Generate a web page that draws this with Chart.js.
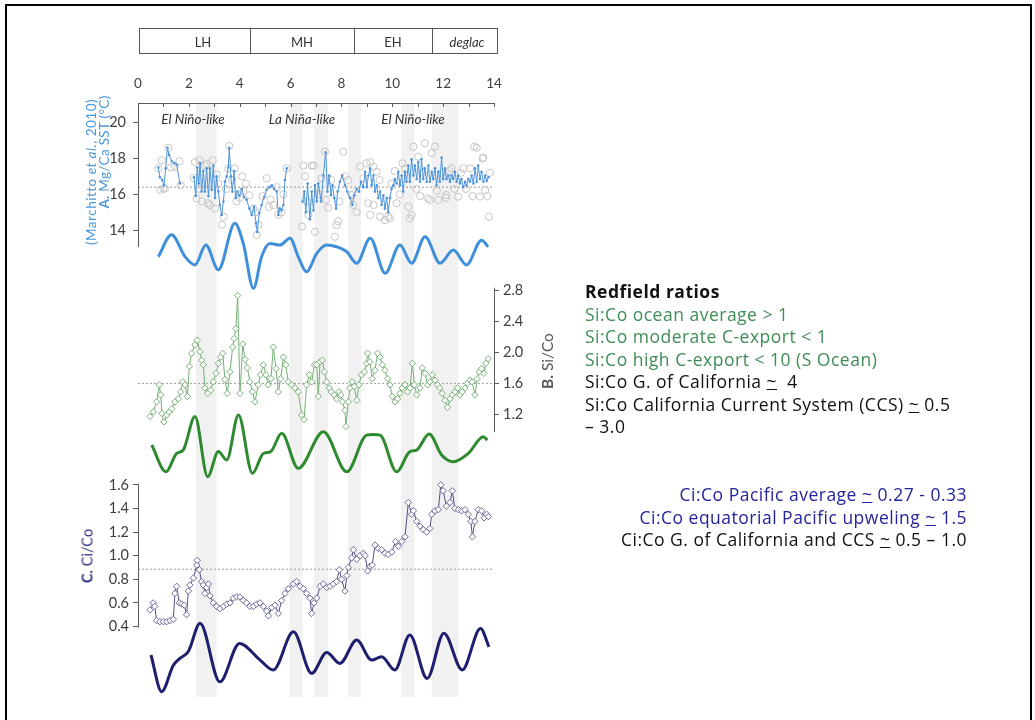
<!DOCTYPE html>
<html>
<head>
<meta charset="utf-8">
<script src="https://cdn.jsdelivr.net/npm/chart.js@4.4.0/dist/chart.umd.min.js"></script>
<style>
  body { margin: 0; background: #fff; font-family: Lato, "Noto Sans", sans-serif; }
  #page { position: relative; width: 1035px; height: 720px; overflow: hidden; }
  #frame { position: absolute; left: 5px; top: 4px; width: 1023px; height: 740px; border: 2px solid #000; }
  #chart { position: absolute; left: 0; top: 0; }
  .rot { position: absolute; transform: translate(-50%, -50%) rotate(-90deg); white-space: nowrap; }
  .lbl { position: absolute; transform: translate(-50%, -50%); white-space: nowrap; color: #333; }
  #periods { position: absolute; left: 139px; top: 28px; width: 357px; height: 24px; border: 1px solid #555; }
  .div { position: absolute; top: 0; height: 24px; border-left: 1px solid #555; }
  .notes { position: absolute; font-family: "Open Sans", sans-serif; font-size: 17.5px; letter-spacing: 0.5px; line-height: 22.5px; white-space: nowrap; color: #111; }
  .g { color: #3f8d56; }
  .b { color: #24249c; }
</style>
</head>
<body>
<div id="page">
  <canvas id="chart" width="1035" height="720"></canvas>

  <div id="periods">
    <div class="div" style="left:110px"></div>
    <div class="div" style="left:214px"></div>
    <div class="div" style="left:292px"></div>
  </div>
  <div class="lbl" style="left:203px;top:42px;font-size:13px">LH</div>
  <div class="lbl" style="left:302px;top:42px;font-size:13px">MH</div>
  <div class="lbl" style="left:393px;top:42px;font-size:13px">EH</div>
  <div class="lbl" style="left:467px;top:42px;font-size:13px;font-style:italic">deglac</div>

  <div class="lbl" style="left:193px;top:119px;font-size:13.5px;font-style:italic">El Niño-like</div>
  <div class="lbl" style="left:302px;top:119px;font-size:13.5px;font-style:italic">La Niña-like</div>
  <div class="lbl" style="left:413px;top:119px;font-size:13.5px;font-style:italic">El Niño-like</div>

  <div class="rot" style="left:91px;top:172px;font-size:13.5px;letter-spacing:0.5px;color:#4a98d8">(Marchitto <i>et al.</i>, 2010)</div>
  <div class="rot" style="left:104px;top:152px;font-size:13.5px;letter-spacing:0.3px;color:#4a98d8"><b>A.</b> Mg/Ca SST (°C)</div>
  <div class="rot" style="left:547px;top:361px;font-size:15.5px;color:#555"><b>B.</b> Si/Co</div>
  <div class="rot" style="left:87px;top:556px;font-size:14.5px;color:#2e2e80"><b>C.</b> Ci/Co</div>

  <div class="notes" style="left:585px;top:280px">
    <div><b>Redfield ratios</b></div>
    <div class="g">Si:Co ocean average &gt; 1</div>
    <div class="g">Si:Co moderate C-export &lt; 1</div>
    <div class="g">Si:Co high C-export &lt; 10 (S Ocean)</div>
    <div>Si:Co G. of California <u>~</u>&nbsp; 4</div>
    <div>Si:Co California Current System (CCS) <u>~</u> 0.5</div>
    <div>– 3.0</div>
  </div>
  <div class="notes" style="right:68px;top:483px;text-align:right">
    <div class="b">Ci:Co Pacific average <u>~</u> 0.27 - 0.33</div>
    <div class="b">Ci:Co equatorial Pacific upweling <u>~</u> 1.5</div>
    <div>Ci:Co G. of California and CCS <u>~</u> 0.5 – 1.0</div>
  </div>

  <div id="frame"></div>
</div>

<script>
// ---- age (ka) of the shaded intervals
const bandStart = [2.28, 5.95, 6.93, 8.27, 10.34, 11.55];
const bandEnd   = [3.09, 6.48, 7.48, 8.77, 10.87, 12.60];

// ---- A. Mg/Ca SST, raw samples (grey circles)
const sstRawX = [0.80,0.87,0.93,1.00,1.06,1.19,1.30,1.45,1.63,1.68,2.20,2.24,2.30,2.38,2.41,2.52,2.63,2.70,2.75,2.83,
  2.94,3.03,3.09,3.16,3.30,3.36,3.46,3.55,3.59,3.70,3.81,3.88,4.01,4.10,4.14,4.25,4.38,4.54,4.62,4.67,
  4.74,4.90,5.06,5.14,5.22,5.32,5.46,5.52,5.65,5.72,5.85,6.45,6.50,6.57,6.64,6.70,6.83,6.90,6.96,7.10,
  7.22,7.35,7.40,7.48,7.60,7.74,7.81,7.87,7.92,8.07,8.15,8.27,8.40,8.46,8.60,8.73,8.86,8.98,9.05,9.13,
  9.13,9.26,9.26,9.39,9.50,9.52,9.71,9.84,9.90,9.97,10.10,10.17,10.30,10.40,10.50,10.63,10.69,10.76,10.83,10.95,
  11.02,11.10,11.20,11.28,11.39,11.48,11.55,11.68,11.75,11.81,11.95,12.11,12.13,12.25,12.33,12.45,12.59,12.70,12.79,12.90,
  13.06,13.15,13.22,13.32,13.45,13.55,13.58,13.65,13.74,13.80,13.84];
const sstRawY = [17.45,16.25,17.9,16.3,16.33,18.6,17.5,17.55,17.85,16.5,16.9,17.8,15.78,16.3,17.9,15.6,17.6,17.7,15.5,15.4,
  17.9,15.2,17.1,16.6,14.3,14.75,16.3,17.45,18.7,16.8,17.45,15.6,15.8,17.0,16.2,16.6,15.95,15.2,15.0,13.73,
  14.3,15.9,16.9,15.3,15.7,15.4,16.4,14.85,15.0,16.0,17.45,14.2,17.6,17.0,15.6,14.85,17.6,17.6,13.9,16.0,
  16.9,18.38,15.7,15.25,16.8,13.63,14.28,14.5,15.6,18.38,17.0,16.8,15.96,15.4,15.0,17.55,16.9,17.73,15.5,17.8,
  14.85,17.54,15.4,17.26,16.8,14.75,14.56,14.75,14.66,16.6,17.3,15.5,16.0,17.73,17.45,15.31,14.66,14.84,18.66,16.3,
  18.1,15.9,17.2,18.85,15.78,15.68,18.3,18.66,16.2,15.68,17.2,15.8,15.96,17.3,17.45,16.3,15.87,17.2,17.45,16.3,
  17.45,15.9,18.66,18.6,15.87,18.0,18.05,16.24,15.9,14.75,17.2];

// ---- A. Mg/Ca SST, connected record (null = gap in the record)
const sstX = [0.80,0.86,0.95,1.02,1.09,1.16,1.22,1.33,1.43,1.52,1.65,1.90,
  2.20,2.27,2.33,2.39,2.44,2.50,2.57,2.63,2.70,2.77,2.83,2.90,2.96,3.03,3.09,3.16,3.22,3.29,3.36,3.42,3.49,3.55,3.59,3.65,
  3.71,3.78,3.84,3.91,3.99,4.08,4.17,4.27,4.38,4.47,4.56,4.64,4.69,4.77,4.86,4.96,5.06,5.17,5.26,5.35,5.46,5.52,5.58,5.65,
  5.72,5.78,5.85,6.20,
  6.47,6.54,6.60,6.67,6.76,6.83,6.90,6.96,7.03,7.09,7.20,7.29,7.38,7.45,7.52,7.59,7.65,7.72,7.79,7.85,7.94,8.03,8.14,8.23,
  8.34,8.43,8.50,8.60,8.69,8.77,8.86,8.93,9.00,9.06,9.13,9.19,9.26,9.32,9.39,9.45,9.52,9.58,9.65,9.71,9.78,9.84,9.91,9.97,
  10.04,10.10,10.17,10.24,10.30,10.37,10.43,10.50,10.56,10.63,10.69,10.76,10.83,10.89,10.96,11.02,11.09,11.15,11.22,11.28,
  11.35,11.42,11.48,11.55,11.61,11.68,11.74,11.81,11.87,11.94,12.00,12.07,12.13,12.20,12.27,12.33,12.40,12.46,12.53,12.59,
  12.66,12.72,12.79,12.86,12.92,12.99,13.06,13.12,13.19,13.25,13.32,13.38,13.45,13.51,13.58,13.65,13.71,13.78];
const sstY = [17.5,16.95,16.8,16.5,17.45,18.6,18.2,17.85,17.75,17.65,16.6,null,
  16.95,15.9,17.5,16.6,17.75,16.15,17.3,16.15,17.45,15.9,17.45,16.25,17.6,15.8,17.0,16.15,15.4,14.85,15.6,16.7,17.0,17.5,18.6,17.0,
  16.15,17.3,15.8,16.15,15.9,16.3,15.85,15.7,15.2,14.85,15.3,14.4,13.9,14.95,15.4,15.85,16.25,16.4,16.5,16.3,16.15,14.85,15.2,15.1,
  15.4,16.8,17.45,null,
  15.6,16.15,15.0,16.6,14.6,16.15,15.1,16.5,15.6,16.6,15.6,17.05,18.35,16.15,17.05,15.95,16.5,15.8,15.2,16.15,16.7,17.05,16.5,16.15,
  15.8,15.4,15.95,16.3,16.15,16.7,16.4,17.25,16.4,17.05,17.45,16.5,17.05,16.15,16.5,15.8,16.15,15.4,15.95,15.2,15.8,15.0,15.8,16.3,
  16.5,16.85,16.6,17.25,16.5,17.05,16.15,17.25,16.7,17.6,16.7,17.95,17.05,17.6,16.85,17.8,16.7,17.95,16.85,17.45,
  16.7,17.6,16.7,17.25,16.85,17.45,16.5,17.25,16.7,18.05,16.85,17.45,16.85,17.05,16.7,17.05,16.85,17.25,16.7,17.05,
  16.6,16.85,16.4,16.7,16.5,16.85,16.7,17.05,16.6,17.45,16.7,17.6,16.85,17.25,16.7,17.05,16.75,16.95];
const sstMean = 16.4;

// ---- B. Si/Co
const sicoX = [0.47,0.60,0.73,0.84,0.89,0.94,1.02,1.13,1.23,1.33,1.45,1.59,1.68,1.76,1.85,1.94,2.02,2.11,2.24,2.33,
  2.44,2.50,2.57,2.63,2.74,2.86,2.96,3.07,3.16,3.25,3.33,3.42,3.51,3.62,3.72,3.78,3.85,3.92,4.01,4.12,
  4.21,4.30,4.40,4.50,4.60,4.73,4.82,4.93,5.03,5.12,5.23,5.32,5.43,5.52,5.61,5.72,5.81,5.91,6.04,6.17,
  6.30,6.44,6.53,6.63,6.74,6.83,6.94,7.03,7.09,7.16,7.25,7.33,7.42,7.52,7.60,7.71,7.81,7.90,7.98,8.04,
  8.14,8.18,8.27,8.33,8.42,8.50,8.60,8.69,8.79,8.90,8.99,9.03,9.12,9.21,9.32,9.42,9.52,9.61,9.71,9.82,
  9.91,10.00,10.11,10.21,10.30,10.39,10.50,10.60,10.70,10.79,10.87,10.96,11.09,11.18,11.29,11.39,11.48,11.57,11.68,11.78,
  11.87,11.96,12.07,12.17,12.27,12.36,12.46,12.57,12.66,12.75,12.86,12.96,13.06,13.14,13.25,13.34,13.42,13.51,13.60,13.68,13.77];
const sicoY = [1.17,1.23,1.36,1.58,1.45,1.21,1.10,1.19,1.23,1.27,1.36,1.40,1.49,1.62,1.58,1.43,1.82,1.99,2.10,2.16,
  2.01,1.90,1.84,1.54,1.47,1.51,1.62,1.73,1.86,1.94,1.99,1.65,1.47,1.75,2.07,2.18,2.31,2.74,1.47,2.11,
  1.91,1.80,1.62,1.49,1.36,1.58,1.71,1.84,1.71,1.58,1.66,2.07,1.79,1.49,1.66,1.94,1.84,1.62,1.58,1.54,
  1.49,1.19,1.13,1.58,1.71,1.62,1.84,1.84,1.43,1.88,1.90,1.75,1.62,1.54,1.49,1.45,1.40,1.49,1.45,1.36,
  1.25,1.04,1.36,1.54,1.62,1.56,1.38,1.58,1.71,1.75,1.86,1.99,1.88,1.66,1.77,1.99,1.94,1.84,1.77,1.66,
  1.58,1.43,1.36,1.40,1.47,1.54,1.58,1.49,1.54,1.86,1.58,1.45,1.54,1.80,1.73,1.58,1.62,1.71,1.64,1.58,
  1.54,1.47,1.38,1.29,1.40,1.45,1.49,1.54,1.45,1.49,1.54,1.60,1.64,1.62,1.45,1.66,1.75,1.79,1.73,1.86,1.92];
const sicoMean = 1.6;

// ---- C. Ci/Co
const cicoX = [0.47,0.60,0.66,0.73,0.86,1.00,1.13,1.26,1.39,1.45,1.52,1.62,1.72,1.82,1.91,1.98,2.04,2.18,2.31,2.33,
  2.41,2.50,2.57,2.63,2.70,2.77,2.83,2.96,3.09,3.22,3.36,3.49,3.62,3.75,3.88,4.01,4.14,4.27,4.40,4.54,
  4.67,4.80,4.93,5.06,5.13,5.26,5.39,5.52,5.65,5.78,5.91,6.11,6.24,6.37,6.50,6.63,6.76,6.83,6.92,7.03,
  7.16,7.29,7.42,7.55,7.68,7.81,7.92,8.01,8.14,8.21,8.27,8.40,8.47,8.60,8.73,8.86,8.93,9.03,9.12,9.21,
  9.32,9.45,9.58,9.71,9.84,9.98,10.13,10.24,10.37,10.50,10.63,10.76,10.83,10.96,11.09,11.22,11.35,11.48,11.55,11.68,
  11.81,11.91,12.00,12.13,12.27,12.36,12.46,12.60,12.73,12.86,12.99,13.09,13.15,13.25,13.38,13.51,13.61,13.71,13.78];
const cicoY = [0.54,0.60,0.57,0.45,0.44,0.44,0.44,0.45,0.46,0.68,0.74,0.60,0.59,0.58,0.50,0.70,0.75,0.81,0.92,0.96,
  0.88,0.78,0.75,0.68,0.73,0.76,0.66,0.60,0.57,0.55,0.57,0.59,0.60,0.64,0.65,0.65,0.62,0.60,0.57,0.57,
  0.59,0.60,0.57,0.53,0.49,0.56,0.58,0.51,0.62,0.68,0.72,0.76,0.78,0.74,0.72,0.68,0.64,0.51,0.60,0.64,
  0.74,0.76,0.73,0.74,0.76,0.78,0.88,0.80,0.70,0.83,0.90,0.98,1.05,0.97,1.00,1.02,1.00,0.87,0.91,0.92,
  1.09,1.06,1.05,1.02,1.01,1.03,1.12,1.08,1.12,1.16,1.45,1.35,1.38,1.29,1.25,1.22,1.20,1.23,1.35,1.38,
  1.39,1.60,1.55,1.42,1.45,1.55,1.40,1.39,1.38,1.39,1.35,1.29,1.16,1.29,1.39,1.38,1.32,1.35,1.33];
const cicoMean = 0.885;

// ---- filtered components (relative amplitude, no scale in the figure)
const sstFiltX = [0.80,1.32,1.85,2.24,2.67,3.16,3.81,4.14,4.54,4.86,5.19,5.58,5.98,6.30,6.63,7.03,7.42,7.81,8.21,8.60,
  9.13,9.72,10.30,10.76,11.29,11.88,12.40,12.92,13.51,13.77];
const sstFiltY = [-0.02,0.64,-0.02,-0.27,0.33,-0.42,0.99,0.38,-0.98,-0.02,0.38,0.33,0.54,-0.02,-0.48,0.08,0.33,0.28,0.13,-0.22,
  0.54,-0.52,0.33,-0.22,0.58,-0.22,0.18,-0.27,0.48,0.28];
const sicoFiltX = [0.54,1.10,1.52,1.78,2.24,2.74,3.16,3.49,3.95,4.50,4.93,5.22,5.65,6.30,7.29,8.21,8.99,9.25,9.52,10.17,
  10.69,10.96,11.45,11.94,12.40,12.99,13.58,13.74];
const sicoFiltY = [0.03,-0.83,-0.24,-0.13,0.95,-0.99,-0.18,-0.45,1.0,-0.88,-0.24,-0.18,0.41,-0.72,0.46,-0.83,0.35,0.37,0.35,-0.83,
  -0.18,-0.13,0.39,-0.29,-0.51,-0.24,0.30,0.19];
const cicoFiltX = [0.51,0.93,1.39,1.65,1.98,2.44,3.22,3.99,4.80,5.32,6.11,6.83,7.42,7.94,8.60,9.19,9.58,10.10,10.69,11.37,
  12.03,12.75,13.47,13.80];
const cicoFiltY = [0.06,-1.02,-0.24,-0.04,0.16,0.99,-0.73,0.40,-0.09,-0.38,0.74,-0.48,0.13,-0.19,0.50,-0.09,0.01,-0.38,0.65,-0.63,
  0.70,-0.38,0.84,0.30];

// ---- ticks
const ageTicks = [0, 2, 4, 6, 8, 10, 12, 14];
const sstTicks = [14, 16, 18, 20];
const sicoTicks = [1.2, 1.6, 2.0, 2.4, 2.8];
const cicoTicks = [0.4, 0.6, 0.8, 1.0, 1.2, 1.4, 1.6];

function pts(xs, ys) {
  return xs.map((x, i) => ({ x: x, y: ys[i] }));
}

const BLUE = '#3f8fdb', GREEN = '#2e8a2e', NAVY = '#1e1e6e';

// shading, partial axis lines, inward age ticks
const decor = {
  id: 'decor',
  afterLayout(chart) {
    // panel A and C share the left gutter: give A the same box so its labels are not clipped
    const a = chart.scales.yA, c = chart.scales.yC;
    a.left = c.left;
    a.width = a.right - a.left;
  },
  beforeDatasetsDraw(chart) {
    const { ctx, chartArea, scales } = chart;
    const x = scales.x;
    ctx.save();
    ctx.fillStyle = '#f1f1f1';
    bandStart.forEach((b, i) => {
      const x0 = x.getPixelForValue(b), x1 = x.getPixelForValue(bandEnd[i]);
      ctx.fillRect(x0, chartArea.top + 1, x1 - x0, chartArea.bottom - chartArea.top - 1);
    });
    ctx.restore();
  },
  afterDraw(chart) {
    const { ctx, chartArea, scales } = chart;
    ctx.save();
    ctx.strokeStyle = '#595959';
    ctx.lineWidth = 1;
    const seg = (xp, s, v0, v1) => {
      ctx.beginPath();
      ctx.moveTo(xp, s.getPixelForValue(v0));
      ctx.lineTo(xp, s.getPixelForValue(v1));
      ctx.stroke();
    };
    seg(scales.yA.right + 0.5, scales.yA, 21.1, 13.05);
    seg(scales.yB.left + 0.5, scales.yB, 2.84, 0.97);
    seg(scales.yC.right + 0.5, scales.yC, 1.61, 0.39);
    for (let v = 0; v <= 14; v++) {
      const xp = Math.round(scales.x.getPixelForValue(v)) + 0.5;
      ctx.beginPath();
      ctx.moveTo(xp, chartArea.top);
      ctx.lineTo(xp, chartArea.top + 4);
      ctx.stroke();
    }
    ctx.restore();
  }
};

function yAxis(pos, weight, min, max, ticks, width, fmt, pad) {
  return {
    type: 'linear', position: pos, weight: weight, min: min, max: max,
    afterBuildTicks: s => { s.ticks = ticks.map(v => ({ value: v })); },
    afterFit: s => { s.width = width; },
    grid: { drawOnChartArea: false, color: '#595959', tickLength: 5 },
    border: { display: false },
    ticks: { color: '#404040', font: { size: 14.5 }, padding: pad, callback: fmt }
  };
}
function hiddenAxis(min, max) {
  return { type: 'linear', display: false, min: min, max: max };
}

Chart.defaults.font.family = 'Lato, "Noto Sans", sans-serif';

new Chart(document.getElementById('chart'), {
  type: 'line',
  data: {
    datasets: [
      { data: pts(sstX, sstY), yAxisID: 'yA', borderColor: '#4d94db', borderWidth: 1, spanGaps: false,
        pointRadius: 1.3, pointBackgroundColor: '#4d94db', pointBorderColor: '#4d94db', pointBorderWidth: 0 },
      { data: pts(sstRawX, sstRawY), yAxisID: 'yA', showLine: false,
        pointRadius: 3.6, pointBorderColor: '#c6c6c6', pointBackgroundColor: 'rgba(0,0,0,0)', pointBorderWidth: 1 },
      { data: pts(sstFiltX, sstFiltY), yAxisID: 'yAf', borderColor: BLUE, borderWidth: 3,
        cubicInterpolationMode: 'monotone', pointRadius: 0, clip: false },

      { data: pts(sicoX, sicoY), yAxisID: 'yB', borderColor: '#74b174', borderWidth: 1,
        pointStyle: 'rectRot', pointRadius: 3.2, pointBorderColor: '#6aa86a', pointBackgroundColor: '#fff', pointBorderWidth: 0.9 },
      { data: pts(sicoFiltX, sicoFiltY), yAxisID: 'yBf', borderColor: GREEN, borderWidth: 3,
        cubicInterpolationMode: 'monotone', pointRadius: 0, clip: false },

      { data: pts(cicoX, cicoY), yAxisID: 'yC', borderColor: '#50508a', borderWidth: 1,
        pointStyle: 'rectRot', pointRadius: 3.2, pointBorderColor: '#5c5c8e', pointBackgroundColor: '#fff', pointBorderWidth: 0.9 },
      { data: pts(cicoFiltX, cicoFiltY), yAxisID: 'yCf', borderColor: NAVY, borderWidth: 3,
        cubicInterpolationMode: 'monotone', pointRadius: 0, clip: false },

      { data: pts([0, 14], [sstMean, sstMean]), yAxisID: 'yA', borderColor: '#9a9a9a', borderWidth: 1, borderDash: [2, 2], pointRadius: 0 },
      { data: pts([0, 14], [sicoMean, sicoMean]), yAxisID: 'yB', borderColor: '#9a9a9a', borderWidth: 1, borderDash: [2, 2], pointRadius: 0 },
      { data: pts([0, 14], [cicoMean, cicoMean]), yAxisID: 'yC', borderColor: '#9a9a9a', borderWidth: 1, borderDash: [2, 2], pointRadius: 0 }
    ]
  },
  options: {
    responsive: false,
    animation: false,
    layout: { padding: { left: 0, top: 73, right: 494, bottom: 23 } },
    plugins: { legend: { display: false }, tooltip: { enabled: false } },
    scales: {
      x: {
        type: 'linear', position: 'top', min: 0, max: 14,
        afterBuildTicks: s => { s.ticks = ageTicks.map(v => ({ value: v })); },
        afterFit: s => { s.height = 30; },
        grid: { display: false, drawTicks: false },
        border: { display: true, color: '#595959', width: 1 },
        ticks: { color: '#404040', font: { size: 13.5 }, padding: 11 }
      },
      yA: yAxis('left', 0, -12.08, 21.10, sstTicks, 0, v => v, 7),
      yC: yAxis('left', 1, -0.198, 4.836, cicoTicks, 138, v => Number(v).toFixed(1), 4),
      yB: yAxis('right', 0, -2.468, 5.236, sicoTicks, 47, v => Number(v).toFixed(1), 4),
      yAf: hiddenAxis(-13.364, 4.636),
      yBf: hiddenAxis(-8.097, 11.065),
      yCf: hiddenAxis(-1.176, 16.294)
    }
  },
  plugins: [decor]
});
</script>
</body>
</html>
